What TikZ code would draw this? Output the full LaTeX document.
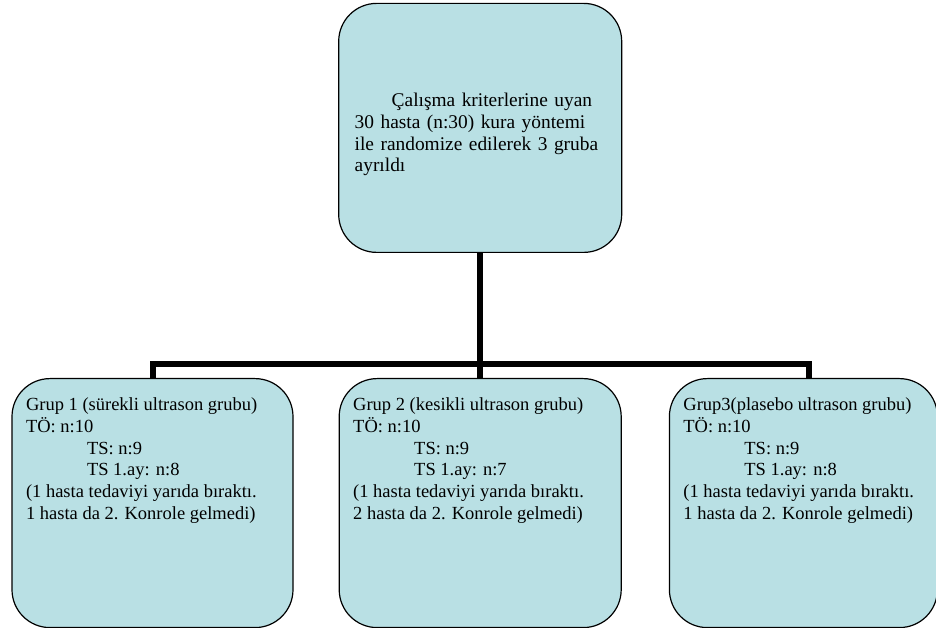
\documentclass[tikz,border=0pt]{standalone}
\usepackage{fontspec}
\setmainfont{Liberation Serif}
\usetikzlibrary{positioning}
\definecolor{boxblue}{RGB}{185,224,228}
% #1 text width, #2 space above first line, #3 lines
\newcommand{\boxtext}[3]{\parbox[c][249pt][t]{#1}{\vspace*{#2}\begin{tabular}[t]{@{}l@{}}#3\end{tabular}}}
\newcommand{\tsindent}{\hspace*{61pt}}
\tikzset{
  bluebox/.style={rectangle, rounded corners=38pt, draw=black, line width=1.2pt,
    fill=boxblue, font=\fontsize{18.5}{21.7}\selectfont},
  grp/.style={bluebox, inner xsep=14pt, inner ysep=0pt},
}

\begin{document}
\begin{tikzpicture}[x=1pt, y=1pt,
	bus/.style={line width=6pt},
	node distance = 45pt and 45pt]

	\useasboundingbox (0,0) rectangle (936,628);

	% group boxes (bottom row)
	\node[grp, anchor=north] (G1) at (152.5,250) {\boxtext{253pt}{17pt}{%
		Grup 1 (sürekli ultrason grubu)\\
		TÖ: n:10\\
		\tsindent TS: n:9\\
		\tsindent TS 1.ay: n:8\\
		(1 hasta tedaviyi yarıda bıraktı.\\
		1 hasta da 2. Konrole gelmedi)}};
	\node[grp, right = 45pt of G1] (G2) {\boxtext{254pt}{17pt}{%
		Grup 2 (kesikli ultrason grubu)\\
		TÖ: n:10\\
		\tsindent TS: n:9\\
		\tsindent TS 1.ay: n:7\\
		(1 hasta tedaviyi yarıda bıraktı.\\
		2 hasta da 2. Konrole gelmedi)}};
	\node[grp, right = 47pt of G2] (G3) {\boxtext{240pt}{17pt}{%
		Grup3(plasebo ultrason grubu)\\
		TÖ: n:10\\
		\tsindent TS: n:9\\
		\tsindent TS 1.ay: n:8\\
		(1 hasta tedaviyi yarıda bıraktı.\\
		1 hasta da 2. Konrole gelmedi)}};

	% randomisation box (top)
	\node[bluebox, minimum width=283pt, minimum height=249pt, text width=251pt,
		align=left, font=\fontsize{19.4}{21.7}\selectfont,
		above = 125pt of G2] (R)
		{\rule{0pt}{27pt}\hspace*{37pt}Çalışma kriterlerine uyan\\
		30 hasta (n:30) kura yöntemi\\
		ile randomize edilerek 3 gruba\\
		ayrıldı};

	% bus coordinates
	\coordinate[below = 111pt of R] (B2);
	\coordinate (T3) at ([xshift=6pt]G3.north); % stub foot of group 3

	% trunk
	\draw[bus] (R.south) -- (G2.north);
	% bus and group stubs
	\draw[bus] (G1.north) |- (B2) -| (T3);

\end{tikzpicture}
\end{document}
